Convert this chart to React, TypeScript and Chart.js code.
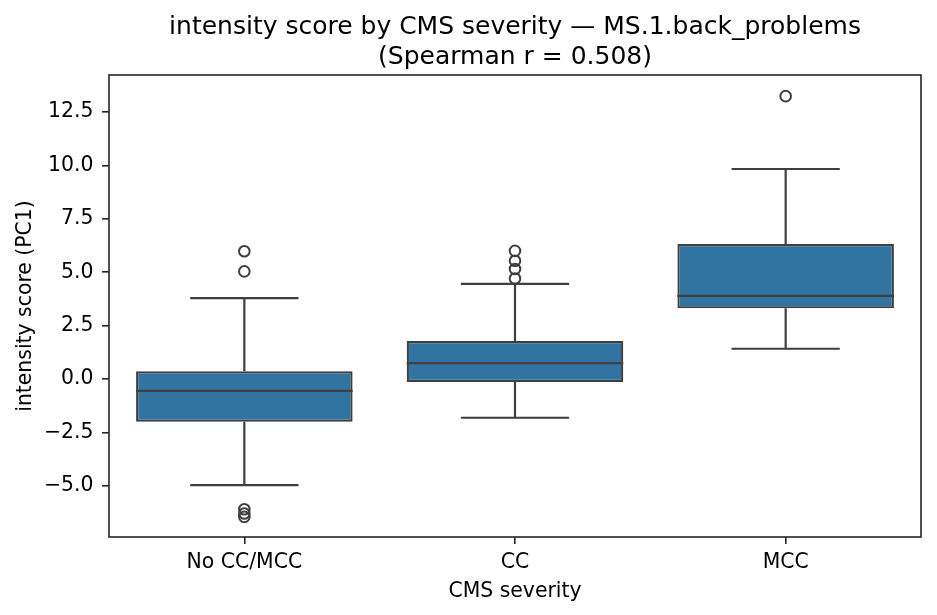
import React, { useEffect, useRef } from "react";
import { Chart, registerables } from "chart.js";

Chart.register(...registerables);

// box statistics
const categories = ["No CC/MCC", "CC", "MCC"];
const q1Values = [-2.0, -0.14, 3.31];
const medianValues = [-0.55, 0.75, 3.89];
const q3Values = [0.37, 1.78, 6.32];
const whiskerLow = [-4.96, -1.81, 1.42];
const whiskerHigh = [3.79, 4.46, 9.83];
const outliersNoCC = [5.98, 5.04, -6.09, -6.29, -6.45];
const outliersCC = [6.0, 5.54, 5.15, 4.71];
const outliersMCC = [13.24];
const yTicks = [-5, -2.5, 0, 2.5, 5, 7.5, 10, 12.5];

const BOX_FILL = "#3274a1";
const LINE = "#3f3f3f";
const AXIS = "#262626";
const FONT = "DejaVu Sans";

const boxPlugin = {
  id: "boxWhiskers",
  afterDatasetsDraw(chart: any) {
    const { ctx, chartArea, scales } = chart;
    const x = scales.x;
    const y = scales.y;
    const meta = chart.getDatasetMeta(0);
    ctx.save();
    ctx.strokeStyle = LINE;
    ctx.lineWidth = 2.2;
    ctx.lineCap = "butt";
    categories.forEach((_, i) => {
      const bar = meta.data[i];
      const cx = x.getPixelForValue(i);
      const half = bar.width / 2;
      const cap = half / 2;
      const yMed = y.getPixelForValue(medianValues[i]);
      const yQ1 = y.getPixelForValue(q1Values[i]);
      const yQ3 = y.getPixelForValue(q3Values[i]);
      const yLo = y.getPixelForValue(whiskerLow[i]);
      const yHi = y.getPixelForValue(whiskerHigh[i]);
      ctx.beginPath();
      // median
      ctx.moveTo(cx - half, yMed);
      ctx.lineTo(cx + half, yMed);
      // whiskers
      ctx.moveTo(cx, yQ3);
      ctx.lineTo(cx, yHi);
      ctx.moveTo(cx, yQ1);
      ctx.lineTo(cx, yLo);
      // caps
      ctx.moveTo(cx - cap, yHi);
      ctx.lineTo(cx + cap, yHi);
      ctx.moveTo(cx - cap, yLo);
      ctx.lineTo(cx + cap, yLo);
      ctx.stroke();
    });
    // frame around the axes
    ctx.strokeStyle = AXIS;
    ctx.lineWidth = 1.6;
    ctx.strokeRect(
      chartArea.left,
      chartArea.top,
      chartArea.right - chartArea.left,
      chartArea.bottom - chartArea.top
    );
    ctx.restore();
  },
};

const fmtTick = (v: number) => {
  const s = Math.abs(v).toFixed(1);
  return v < 0 ? "\u2212" + s : s;
};

const App: React.FC = () => {
  const canvasRef = useRef<HTMLCanvasElement>(null!);

  useEffect(() => {
    const canvas = canvasRef.current;
    Chart.getChart(canvas)?.destroy();

    const outlierPoints = [
      ...outliersNoCC.map((v) => ({ x: categories[0], y: v })),
      ...outliersCC.map((v) => ({ x: categories[1], y: v })),
      ...outliersMCC.map((v) => ({ x: categories[2], y: v })),
    ];

    const chart = new Chart(canvas, {
      type: "bar",
      data: {
        labels: categories,
        datasets: [
          {
            type: "bar",
            data: categories.map((_, i) => [q1Values[i], q3Values[i]]) as any,
            backgroundColor: BOX_FILL,
            borderColor: LINE,
            borderWidth: 2.2,
            borderSkipped: false,
            categoryPercentage: 0.8,
            barPercentage: 1,
          },
          {
            type: "line",
            data: outlierPoints as any,
            showLine: false,
            pointRadius: 5.3,
            pointBackgroundColor: "rgba(0,0,0,0)",
            pointBorderColor: LINE,
            pointBorderWidth: 2,
          } as any,
        ],
      },
      options: {
        animation: false,
        responsive: true,
        maintainAspectRatio: false,
        layout: { padding: { left: 0, right: 16, top: 0, bottom: 0 } },
        plugins: {
          legend: { display: false },
          tooltip: { enabled: false },
          title: {
            display: true,
            fullSize: false,
            text: [
              "intensity score by CMS severity \u2014 MS.1.back_problems",
              "(Spearman r = 0.508)",
            ],
            color: "#000",
            font: { family: FONT, size: 25, weight: "normal", lineHeight: 1.18 },
            padding: { top: 13, bottom: 3 },
          },
        },
        scales: {
          x: {
            type: "category",
            offset: true,
            grid: {
              offset: false,
              drawOnChartArea: false,
              tickLength: 7,
              color: AXIS,
              tickColor: AXIS,
              lineWidth: 1.6,
            },
            border: { display: false },
            ticks: { color: "#000", font: { family: FONT, size: 20.4 }, padding: 6.5 },
            title: {
              display: true,
              text: "CMS severity",
              color: "#000",
              font: { family: FONT, size: 20.4 },
              padding: { top: 0, bottom: 11 },
            },
            afterFit: (s: any) => {
              s.height = 78;
            },
          },
          y: {
            type: "linear",
            min: -7.39,
            max: 14.23,
            afterBuildTicks: (s: any) => {
              s.ticks = yTicks.map((v) => ({ value: v }));
            },
            grid: {
              drawOnChartArea: false,
              tickLength: 7,
              color: AXIS,
              tickColor: AXIS,
              lineWidth: 1.6,
            },
            border: { display: false },
            ticks: {
              color: "#000",
              font: { family: FONT, size: 20.4 },
              padding: 8.5,
              callback: (v: any) => fmtTick(Number(v)),
            },
            title: {
              display: true,
              text: "intensity score (PC1)",
              color: "#000",
              font: { family: FONT, size: 20.4 },
              padding: { top: 13, bottom: 0 },
            },
            afterFit: (s: any) => {
              s.width = 109;
            },
          },
        },
      },
      plugins: [boxPlugin],
    });

    return () => {
      chart.destroy();
    };
  }, []);

  return (
    <div style={{ position: "fixed", left: 0, top: 0, width: 937, height: 615, background: "#fff" }}>
      <canvas ref={canvasRef} />
    </div>
  );
};

export default App;
